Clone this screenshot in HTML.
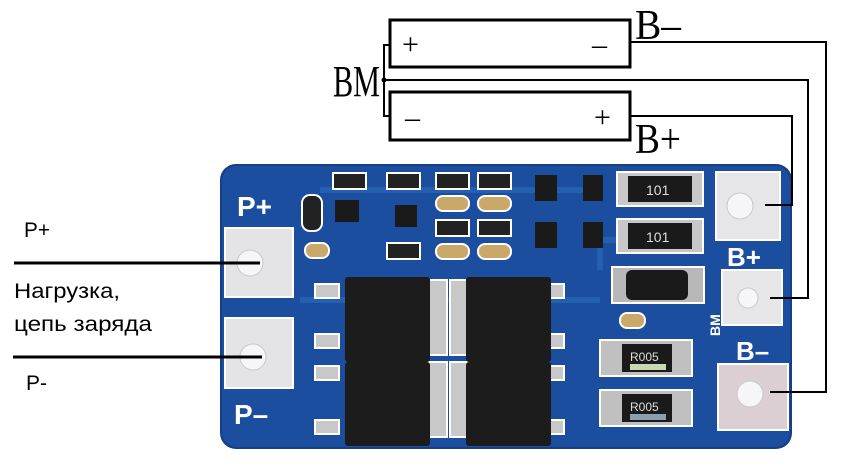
<!DOCTYPE html>
<html><head><meta charset="utf-8"><style>
html,body{margin:0;padding:0;background:#fff;width:855px;height:469px;overflow:hidden}
</style></head><body>
<svg width="855" height="469" viewBox="0 0 855 469" xmlns="http://www.w3.org/2000/svg">
<!-- board -->
<rect x="220" y="164" width="572" height="285" rx="16" fill="#173f88"/>
<rect x="222" y="166" width="568" height="281" rx="15" fill="#1b4e9e"/>
<path d="M300 300 L600 300 M600 270 L600 240 L700 240 M320 190 L600 190" stroke="#2560b0" stroke-width="6" fill="none"/>
<!-- left pads -->
<rect x="225" y="228" width="68" height="69" fill="#e4e4e6" stroke="#fff" stroke-width="2"/>
<circle cx="250" cy="263" r="13" fill="#f6f6f8" stroke="#c8c8cc"/>
<rect x="225" y="318" width="68" height="70" fill="#e4e4e6" stroke="#fff" stroke-width="2"/>
<circle cx="253" cy="357" r="13" fill="#f6f6f8" stroke="#c8c8cc"/>
<!-- right pads -->
<rect x="716" y="172" width="64" height="68" fill="#e6e6e8" stroke="#fff" stroke-width="2"/>
<circle cx="740" cy="206" r="13" fill="#f6f6f8" stroke="#c8c8cc"/>
<rect x="722" y="270" width="60" height="55" fill="#e6e6e8" stroke="#fff" stroke-width="2"/>
<circle cx="748" cy="298" r="10" fill="#f6f6f8" stroke="#c8c8cc"/>
<rect x="718" y="364" width="70" height="66" fill="#dccfd4" stroke="#fff" stroke-width="2"/>
<circle cx="750" cy="394" r="13" fill="#f6f6f8" stroke="#c8c8cc"/>
<!-- board labels -->
<g font-family="Liberation Sans, sans-serif" font-weight="bold" fill="#fff">
<text x="237" y="216" font-size="28">P+</text>
<text x="234" y="424" font-size="28">P–</text>
<text x="727" y="266" font-size="26">B+</text>
<text x="736" y="360" font-size="26">B–</text>
<text transform="translate(720,336) rotate(-90)" font-size="14">BM</text>
</g>
<!-- small top components -->
<g fill="#222" stroke="#fff" stroke-width="2">
<rect x="333" y="173" width="33" height="16"/><rect x="387" y="173" width="33" height="16"/>
<rect x="436" y="173" width="33" height="16"/><rect x="478" y="173" width="33" height="16"/>
<rect x="436" y="220" width="33" height="16"/><rect x="478" y="220" width="33" height="16"/>
<rect x="387" y="243" width="33" height="16"/>
<rect x="302" y="195" width="20" height="36" rx="8"/>
</g>
<g fill="#c9a86a" stroke="#fff" stroke-width="2">
<rect x="436" y="196" width="33" height="15" rx="7"/><rect x="478" y="196" width="33" height="15" rx="7"/>
<rect x="436" y="244" width="33" height="15" rx="7"/><rect x="478" y="244" width="33" height="15" rx="7"/>
<rect x="305" y="243" width="24" height="15" rx="7"/><rect x="620" y="313" width="25" height="15" rx="7"/>
</g>
<g fill="#1a1a1a">
<rect x="335" y="200" width="24" height="22"/><rect x="395" y="205" width="22" height="22"/>
<rect x="535" y="175" width="22" height="26"/><rect x="583" y="175" width="20" height="26"/>
<rect x="535" y="222" width="22" height="26"/><rect x="583" y="222" width="20" height="26"/>
</g>
<!-- resistors 101 -->
<rect x="617" y="172" width="86" height="34" fill="#c8c8c8" stroke="#fff" stroke-width="2"/>
<rect x="628" y="176" width="64" height="26" fill="#1a1a1a"/>
<text x="646" y="195" font-family="Liberation Sans, sans-serif" font-size="14" fill="#ddd">101</text>
<rect x="617" y="219" width="86" height="34" fill="#c8c8c8" stroke="#fff" stroke-width="2"/>
<rect x="628" y="223" width="64" height="26" fill="#1a1a1a"/>
<text x="646" y="242" font-family="Liberation Sans, sans-serif" font-size="14" fill="#ddd">101</text>
<rect x="612" y="267" width="92" height="36" fill="#b8b8b8" stroke="#fff" stroke-width="2"/>
<rect x="626" y="270" width="62" height="30" rx="6" fill="#1a1a1a"/>
<!-- R005 -->
<rect x="600" y="340" width="92" height="36" fill="#c0c0c0" stroke="#fff" stroke-width="2"/>
<rect x="622" y="344" width="50" height="28" fill="#1a1a1a"/>
<rect x="630" y="364" width="36" height="6" fill="#c8d8b0"/>
<text x="630" y="361" font-family="Liberation Sans, sans-serif" font-size="12" fill="#ddd">R005</text>
<rect x="600" y="390" width="92" height="36" fill="#c0c0c0" stroke="#fff" stroke-width="2"/>
<rect x="622" y="394" width="50" height="28" fill="#1a1a1a"/>
<rect x="630" y="414" width="36" height="6" fill="#8aa0b0"/>
<text x="630" y="411" font-family="Liberation Sans, sans-serif" font-size="12" fill="#ddd">R005</text>
<!-- mosfet tabs -->
<g fill="#c8c8c8" stroke="#fff" stroke-width="2">
<rect x="425" y="280" width="22" height="75"/><rect x="450" y="280" width="22" height="75"/>
<rect x="425" y="362" width="22" height="75"/><rect x="450" y="362" width="22" height="75"/>
<rect x="315" y="284" width="24" height="14"/><rect x="315" y="334" width="24" height="14"/>
<rect x="315" y="366" width="24" height="14"/><rect x="315" y="420" width="24" height="14"/>
<rect x="540" y="284" width="24" height="14"/><rect x="540" y="334" width="24" height="14"/>
<rect x="540" y="366" width="24" height="14"/><rect x="540" y="420" width="24" height="14"/>
</g>
<g fill="#1c1c1c">
<rect x="345" y="277" width="85" height="85" rx="3"/><rect x="466" y="277" width="85" height="85" rx="3"/>
<rect x="345" y="362" width="85" height="84" rx="3"/><rect x="466" y="362" width="85" height="84" rx="3"/>
</g>
<!-- diagram -->
<g fill="none" stroke="#000" stroke-width="2">
<rect x="390" y="20" width="240" height="47" stroke-width="3"/>
<rect x="390" y="92" width="240" height="48" stroke-width="3"/>
<polyline points="390,45 384,45 384,116 390,116"/>
<polyline points="630,42 826,42 826,392 770,392"/>
<polyline points="384,80 808,80 808,298 770,298"/>
<polyline points="630,116 792,116 792,205 765,205"/>
<line x1="14" y1="263" x2="260" y2="263" stroke-width="3"/>
<line x1="13" y1="357" x2="262" y2="357" stroke-width="3"/>
</g>
<circle cx="384" cy="80" r="2.5" fill="#000"/>
<g font-family="Liberation Serif, serif" fill="#000">
<text x="333" y="96" font-size="44" textLength="47" lengthAdjust="spacingAndGlyphs">BM</text>
<text x="635" y="39" font-size="42" textLength="46" lengthAdjust="spacingAndGlyphs">B–</text>
<text x="635" y="153" font-size="42" textLength="46" lengthAdjust="spacingAndGlyphs">B+</text>
<text x="402" y="54" font-size="30">+</text>
<text x="592" y="54" font-size="30">–</text>
<text x="405" y="127" font-size="30">–</text>
<text x="594" y="127" font-size="30">+</text>
</g>
<g font-family="Liberation Sans, sans-serif" font-size="21" fill="#000">
<text x="24" y="237" textLength="26" lengthAdjust="spacingAndGlyphs">P+</text>
<text x="14" y="298" textLength="106" lengthAdjust="spacingAndGlyphs">Нагрузка,</text>
<text x="14" y="331" textLength="138" lengthAdjust="spacingAndGlyphs">цепь заряда</text>
<text x="26" y="390" textLength="21" lengthAdjust="spacingAndGlyphs">P-</text>
</g>
</svg>
</body></html>
